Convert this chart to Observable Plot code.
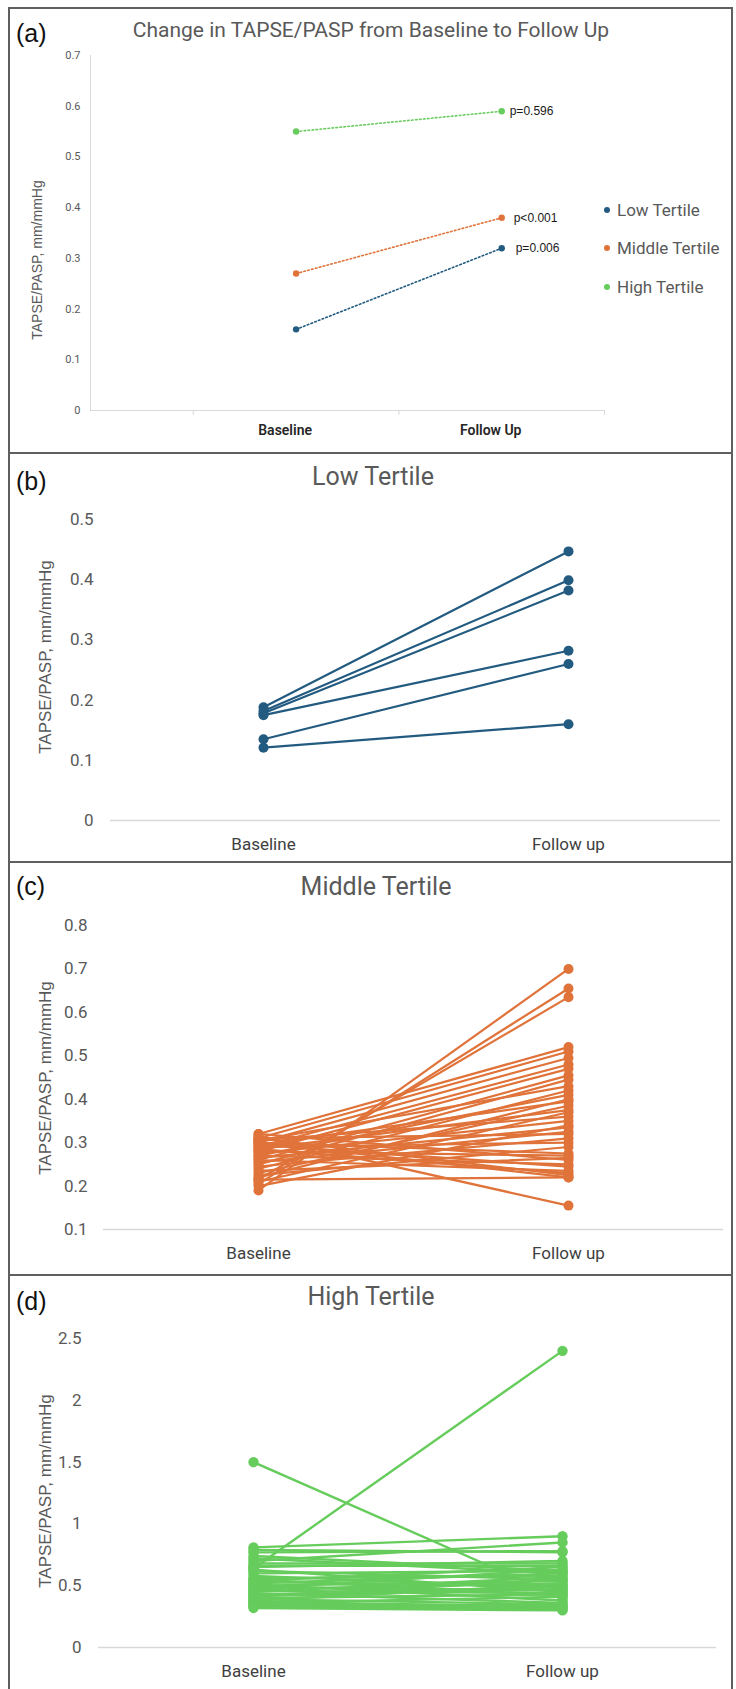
<!DOCTYPE html>
<html>
<head>
<meta charset="utf-8">
<script src="https://cdn.jsdelivr.net/npm/d3@7"></script>
<script src="https://cdn.jsdelivr.net/npm/@observablehq/plot@0.6"></script>
<style>
  html, body { margin: 0; padding: 0; background: #fff; }
  #page { position: relative; width: 736px; height: 1689px; overflow: hidden; background: #fff; }
  .abs { position: absolute; white-space: nowrap; }
  .line { position: absolute; background: #5f5f5f; }
</style>
</head>
<body>
<div id="page"></div>
<script>
// ---------- data ----------
const categoriesA = ["Baseline", "Follow Up"];
const categories = ["Baseline", "Follow up"];
const tertiles = ["Low Tertile", "Middle Tertile", "High Tertile"];
const tertileColors = ["#235b80", "#e0733a", "#66cc5c"];
const meanBaseline = [0.16, 0.27, 0.55];
const meanFollowUp = [0.32, 0.38, 0.59];
const pValues = ["p=0.006", "p<0.001", "p=0.596"];

const lowBaseline = [0.188, 0.182, 0.178, 0.175, 0.135, 0.121];
const lowFollowUp = [0.447, 0.399, 0.382, 0.282, 0.260, 0.160];

const midBaseline = [0.19, 0.205, 0.215, 0.32, 0.31, 0.30, 0.29, 0.28, 0.26, 0.25,
  0.305, 0.24, 0.27, 0.22, 0.295, 0.23, 0.285, 0.21, 0.305, 0.275,
  0.20, 0.265, 0.255, 0.31, 0.245, 0.29, 0.225, 0.30, 0.28, 0.235,
  0.32, 0.27, 0.295, 0.26, 0.285, 0.31, 0.215, 0.30, 0.315];
const midFollowUp = [0.70, 0.655, 0.635, 0.52, 0.51, 0.495, 0.48, 0.47, 0.455, 0.445,
  0.43, 0.42, 0.41, 0.40, 0.395, 0.385, 0.375, 0.37, 0.36, 0.35,
  0.34, 0.335, 0.325, 0.32, 0.31, 0.30, 0.29, 0.275, 0.27, 0.265,
  0.26, 0.25, 0.245, 0.235, 0.23, 0.225, 0.22, 0.22, 0.155];

const highBaseline = [0.81, 0.79, 0.77, 0.74, 0.72, 0.70, 0.68, 0.66, 0.65, 0.64,
  1.50, 0.63, 0.62, 0.60, 0.58, 0.56, 0.55, 0.54, 0.53, 0.52,
  0.51, 0.50, 0.49, 0.48, 0.47, 0.46, 0.45, 0.44, 0.43, 0.42,
  0.41, 0.40, 0.39, 0.38, 0.37, 0.36, 0.35, 0.34, 0.33, 0.32];
const highFollowUp = [0.90, 0.77, 0.78, 0.62, 0.60, 0.85, 0.68, 0.66, 0.70, 2.40,
  0.40, 0.45, 0.55, 0.62, 0.48, 0.58, 0.42, 0.65, 0.50, 0.60,
  0.38, 0.54, 0.46, 0.63, 0.52, 0.44, 0.57, 0.36, 0.49, 0.47,
  0.55, 0.43, 0.35, 0.51, 0.33, 0.41, 0.34, 0.32, 0.31, 0.30];

const ticksA = [0, 0.1, 0.2, 0.3, 0.4, 0.5, 0.6, 0.7];
const ticksB = [0, 0.1, 0.2, 0.3, 0.4, 0.5];
const ticksC = [0.1, 0.2, 0.3, 0.4, 0.5, 0.6, 0.7, 0.8];
const ticksD = [0, 0.5, 1, 1.5, 2, 2.5];

const yTitle = "TAPSE/PASP, mm/mmHg";
const panelTitles = ["Change in TAPSE/PASP from Baseline to Follow Up", "Low Tertile", "Middle Tertile", "High Tertile"];
const panelLetters = ["(a)", "(b)", "(c)", "(d)"];

// ---------- helpers ----------
const page = document.getElementById("page");
const EXCEL_FONT = "Roboto, 'Liberation Sans', Arial, sans-serif";
const ARIAL = "'Liberation Sans', Arial, sans-serif";

function hline(y, x1, x2, t = 2) {
  const d = document.createElement("div");
  d.className = "line";
  Object.assign(d.style, {left: x1 + "px", top: y + "px", width: (x2 - x1) + "px", height: t + "px"});
  page.appendChild(d);
}
function vline(x, y1, y2, t = 2) {
  const d = document.createElement("div");
  d.className = "line";
  Object.assign(d.style, {left: x + "px", top: y1 + "px", width: t + "px", height: (y2 - y1) + "px"});
  page.appendChild(d);
}
function label(text, cx, cy, style, rotate = 0, anchor = "center") {
  const d = document.createElement("div");
  d.className = "abs";
  d.textContent = text;
  Object.assign(d.style, style, {left: cx + "px", top: cy + "px", lineHeight: "1"});
  const tx = anchor === "center" ? "-50%" : "0";
  d.style.transform = `translate(${tx}, -50%) rotate(${rotate}deg)`;
  if (rotate) d.style.transform = `translate(-50%, -50%) rotate(${rotate}deg)`;
  page.appendChild(d);
}
function place(svg, left, top) {
  const w = document.createElement("div");
  Object.assign(w.style, {position: "absolute", left: left + "px", top: top + "px"});
  w.appendChild(svg);
  page.appendChild(w);
}
function pairRows(base, follow) {
  return base.flatMap((b, i) => [
    {id: i, t: categories[0], v: b},
    {id: i, t: categories[1], v: follow[i]}
  ]);
}

// ---------- frame ----------
vline(8, 7, 1689);
vline(731, 7, 1689);
hline(7, 8, 733);
hline(452, 8, 733);
hline(861, 8, 733);
hline(1274, 8, 733);

// ---------- panel (a) ----------
const rowsA = tertiles.flatMap((g, i) => [
  {group: g, t: 1, v: meanBaseline[i]},
  {group: g, t: 2, v: meanFollowUp[i]}
]);
const pRows = tertiles.map((g, i) => ({group: g, v: meanFollowUp[i], p: pValues[i]}));

const plotA = Plot.plot({
  width: 723, height: 445,
  marginTop: 47, marginBottom: 43, marginLeft: 81, marginRight: 128,
  style: {fontFamily: EXCEL_FONT, color: "#595959", background: "transparent", overflow: "visible"},
  x: {domain: [0, 2.5], axis: null},
  y: {domain: [0, 0.7], axis: null},
  color: {domain: tertiles, range: tertileColors},
  marks: [
    Plot.ruleX([0], {stroke: "#d9d9d9", strokeWidth: 1}),
    Plot.ruleY([0], {stroke: "#d9d9d9", strokeWidth: 1}),
    Plot.axisX({ticks: [0.5, 1.5, 2.5], tickSize: 5, tickFormat: () => "", stroke: "#d9d9d9", label: null}),
    Plot.axisY({ticks: ticksA, tickSize: 0, tickPadding: 10, tickFormat: d => String(d), fontSize: 11, label: null}),
    Plot.axisX({ticks: [1, 2], tickSize: 0, tickPadding: 15, dx: -11, tickFormat: i => categoriesA[i - 1],
      fontSize: 14, fontWeight: 600, color: "#262626", label: null}),
    Plot.line(rowsA, {x: "t", y: "v", z: "group", stroke: "group", strokeWidth: 1.6, strokeDasharray: "1.6,2.4"}),
    Plot.dot(rowsA, {x: "t", y: "v", fill: "group", r: 3.2}),
    ...pRows.map((d, i) => Plot.text([d], {x: 2, y: "v", text: "p", dx: [14, 12, 8][i], textAnchor: "start",
      fontSize: 12, fontFamily: ARIAL, fill: "#1a1a1a"}))
  ]
});
place(plotA, 9, 8);

label(panelLetters[0], 16, 33, {fontFamily: ARIAL, fontSize: "25px", color: "#111"}, 0, "left");
label(panelTitles[0], 371, 30, {fontFamily: EXCEL_FONT, fontSize: "21px", color: "#595959"});
label(yTitle, 37, 260, {fontFamily: ARIAL, fontSize: "14px", color: "#595959"}, -90);
const legendY = [210, 248, 287];
tertiles.forEach((t, i) => {
  const dot = document.createElement("div");
  Object.assign(dot.style, {position: "absolute", left: "604px", top: (legendY[i] - 3) + "px", width: "6px", height: "6px",
    borderRadius: "50%", background: tertileColors[i]});
  page.appendChild(dot);
  label(t, 617, legendY[i], {fontFamily: EXCEL_FONT, fontSize: "17px", color: "#595959"}, 0, "left");
});

// ---------- tertile panels ----------
function tertilePanel({base, follow, color, ticks, domain, height, mt, mb, ml, mr, pad, r, sw}) {
  const rows = pairRows(base, follow);
  return Plot.plot({
    width: 723, height,
    marginTop: mt, marginBottom: mb, marginLeft: ml, marginRight: mr,
    style: {fontFamily: EXCEL_FONT, color: "#595959", background: "transparent", overflow: "visible"},
    x: {type: "point", domain: categories, padding: 0.5, axis: null},
    y: {domain, axis: null},
    marks: [
      Plot.ruleY([domain[0]], {stroke: "#d9d9d9", strokeWidth: 1.5}),
      Plot.axisY({ticks, tickSize: 0, tickPadding: pad, tickFormat: d => String(d), fontSize: 17, label: null}),
      Plot.axisX({tickSize: 0, tickPadding: 17, fontSize: 17, color: "#404040", label: null}),
      Plot.line(rows, {x: "t", y: "v", z: "id", stroke: color, strokeWidth: sw}),
      Plot.dot(rows, {x: "t", y: "v", fill: color, r})
    ]
  });
}

place(tertilePanel({base: lowBaseline, follow: lowFollowUp, color: tertileColors[0], ticks: ticksB, domain: [0, 0.5],
  height: 409, mt: 66, mb: 42, ml: 101, mr: 12, pad: 17, r: 5, sw: 2.2}), 9, 453);
place(tertilePanel({base: midBaseline, follow: midFollowUp, color: tertileColors[1], ticks: ticksC, domain: [0.1, 0.8],
  height: 413, mt: 63, mb: 46, ml: 94, mr: 9, pad: 16, r: 5, sw: 2.2}), 9, 862);
place(tertilePanel({base: highBaseline, follow: highFollowUp, color: tertileColors[2], ticks: ticksD, domain: [0, 2.5],
  height: 414, mt: 63, mb: 42, ml: 89, mr: 16, pad: 17, r: 5.2, sw: 2.4}), 9, 1275);

const letterY = [481, 886, 1301];
const titleC = [[373, 476], [376, 886], [371, 1296]];
const yTitleY = [657, 1078, 1491];
[1, 2, 3].forEach(k => {
  label(panelLetters[k], 16, letterY[k - 1], {fontFamily: ARIAL, fontSize: "25px", color: "#111"}, 0, "left");
  label(panelTitles[k], titleC[k - 1][0], titleC[k - 1][1], {fontFamily: EXCEL_FONT, fontSize: "25px", color: "#595959"});
  label(yTitle, 45, yTitleY[k - 1], {fontFamily: ARIAL, fontSize: "17px", color: "#595959"}, -90);
});
</script>
</body>
</html>
